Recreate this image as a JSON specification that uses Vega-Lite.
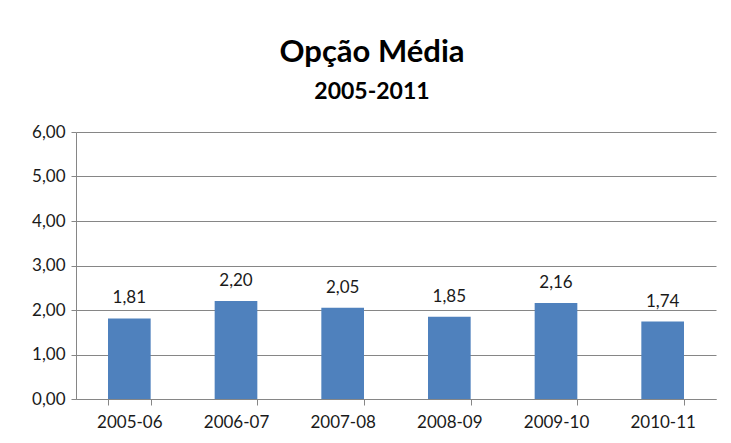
{
  "$schema": "https://vega.github.io/schema/vega-lite/v6.json",
  "width": 640,
  "height": 267,
  "autosize": {"type": "none"},
  "padding": {"left": 76, "top": 132, "right": 15, "bottom": 44},
  "background": "white",
  "config": {
    "locale": {"number": {"decimal": ",", "thousands": ".", "grouping": [3], "currency": ["", ""]}},
    "view": {"stroke": null},
    "font": "Lato"
  },
  "title": {
    "text": "Opção Média",
    "subtitle": "2005-2011",
    "font": "Lato",
    "subtitleFont": "Lato",
    "fontSize": 31,
    "fontWeight": "bold",
    "subtitleFontSize": 23,
    "subtitleFontWeight": "bold",
    "color": "#000000",
    "subtitleColor": "#000000",
    "anchor": "middle",
    "dx": -24,
    "offset": 18,
    "subtitlePadding": 12
  },
  "data": {
    "values": [
      {"periodo": "2005-06", "valor": 1.81},
      {"periodo": "2006-07", "valor": 2.20},
      {"periodo": "2007-08", "valor": 2.05},
      {"periodo": "2008-09", "valor": 1.85},
      {"periodo": "2009-10", "valor": 2.16},
      {"periodo": "2010-11", "valor": 1.74}
    ]
  },
  "encoding": {
    "x": {
      "field": "periodo",
      "type": "nominal",
      "sort": null,
      "scale": {"paddingInner": 0.6, "paddingOuter": 0.3},
      "axis": {
        "title": null,
        "labelAngle": 0,
        "labelFontSize": 17,
        "labelColor": "#1a1a1a",
        "labelPadding": 9,
        "tickBand": "extent",
        "tickSize": 6,
        "tickColor": "#868686",
        "domainColor": "#868686",
        "grid": false
      }
    },
    "y": {
      "field": "valor",
      "type": "quantitative",
      "scale": {"domain": [0, 6], "nice": false},
      "axis": {
        "title": null,
        "values": [0, 1, 2, 3, 4, 5, 6],
        "format": ".2f",
        "labelFontSize": 17,
        "labelColor": "#1a1a1a",
        "labelPadding": 6,
        "tickSize": 5,
        "tickColor": "#868686",
        "domainColor": "#868686",
        "grid": true,
        "gridColor": "#868686"
      }
    }
  },
  "layer": [
    {"mark": {"type": "bar", "color": "#4F81BD"}},
    {
      "mark": {"type": "text", "baseline": "alphabetic", "dy": -15, "fontSize": 17, "color": "#1a1a1a"},
      "encoding": {"text": {"field": "valor", "type": "quantitative", "format": ".2f"}}
    }
  ]
}
